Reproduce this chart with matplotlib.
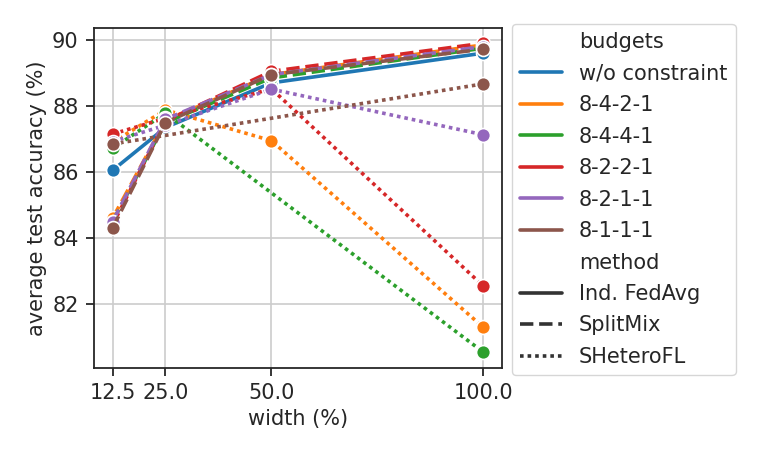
import matplotlib
matplotlib.use("Agg")
import matplotlib.pyplot as plt
from matplotlib.lines import Line2D
import seaborn as sns

sns.set_style("ticks", {"axes.grid": True})
plt.rcParams['font.family'] = ['DejaVu Sans']

# widths on the x axis
widths = [12.5, 25.0, 50.0, 100.0]
budgets = ["w/o constraint", "8-4-2-1", "8-4-4-1", "8-2-2-1", "8-2-1-1", "8-1-1-1"]
methods = ["Ind. FedAvg", "SplitMix", "SHeteroFL"]
colors = sns.color_palette("tab10", 6)
dashes = {"Ind. FedAvg": "-", "SplitMix": (0, (3.7, 1.6)), "SHeteroFL": (0, (1, 1.1))}

# Ind. FedAvg (no budget constraint)
fedavg_x = [12.5, 25.0, 50.0, 100.0]
fedavg_y = [86.05, 87.35, 88.70, 89.60]

# SplitMix, per budget
splitmix_x = [12.5, 25.0, 50.0, 100.0]
splitmix_8421 = [84.60, 87.55, 88.95, 89.85]
splitmix_8441 = [84.50, 87.50, 88.85, 89.75]
splitmix_8221 = [84.40, 87.55, 89.05, 89.90]
splitmix_8211 = [84.50, 87.60, 88.95, 89.80]
splitmix_8111 = [84.30, 87.50, 88.95, 89.72]

# SHeteroFL, per budget (only widths that exist for that budget)
shetero_8421_x = [12.5, 25.0, 50.0, 100.0]
shetero_8421_y = [86.90, 87.88, 86.95, 81.30]
shetero_8441_x = [12.5, 25.0, 100.0]
shetero_8441_y = [86.72, 87.78, 80.55]
shetero_8221_x = [12.5, 25.0, 50.0, 100.0]
shetero_8221_y = [87.15, 87.63, 88.52, 82.55]
shetero_8211_x = [12.5, 25.0, 50.0, 100.0]
shetero_8211_y = [86.92, 87.42, 88.51, 87.13]
shetero_8111_x = [12.5, 100.0]
shetero_8111_y = [86.85, 88.67]

series = [
    ("w/o constraint", "Ind. FedAvg", fedavg_x, fedavg_y),
    ("8-4-2-1", "SplitMix", splitmix_x, splitmix_8421),
    ("8-4-2-1", "SHeteroFL", shetero_8421_x, shetero_8421_y),
    ("8-4-4-1", "SplitMix", splitmix_x, splitmix_8441),
    ("8-4-4-1", "SHeteroFL", shetero_8441_x, shetero_8441_y),
    ("8-2-2-1", "SplitMix", splitmix_x, splitmix_8221),
    ("8-2-2-1", "SHeteroFL", shetero_8221_x, shetero_8221_y),
    ("8-2-1-1", "SplitMix", splitmix_x, splitmix_8211),
    ("8-2-1-1", "SHeteroFL", shetero_8211_x, shetero_8211_y),
    ("8-1-1-1", "SplitMix", splitmix_x, splitmix_8111),
    ("8-1-1-1", "SHeteroFL", shetero_8111_x, shetero_8111_y),
]

fs = 15
fig = plt.figure(figsize=(7.61, 4.57), dpi=100)
ax = fig.add_axes([0.1235, 0.1947, 0.536, 0.744])

for budget, method, xs, ys in series:
    ax.plot(xs, ys, color=colors[budgets.index(budget)], linestyle=dashes[method],
            lw=2.6, marker="o", markersize=10, markeredgecolor="white",
            markeredgewidth=1.2)

ax.set_xticks(widths)
ax.set_xticklabels([str(w) for w in widths])
ax.set_ylim(80.07, 90.36)
ax.set_yticks([82, 84, 86, 88, 90])
ax.set_xlabel("width (%)", fontsize=fs)
ax.set_ylabel("average test accuracy (%)", fontsize=fs)
ax.tick_params(labelsize=fs, length=6, width=1.3, color="#262626", pad=5)
for s in ax.spines.values():
    s.set_color("#262626")
    s.set_linewidth(1.3)
ax.grid(True, color="#cccccc", lw=1.2)

# legend in the old seaborn style: group titles as blank entries
blank = Line2D([], [], color="none")
handles, labels = [blank], ["budgets"]
for i, b in enumerate(budgets):
    handles.append(Line2D([], [], color=colors[i], lw=2.6))
    labels.append(b)
handles.append(blank)
labels.append("method")
for m in methods:
    handles.append(Line2D([], [], color="#333333", lw=2.6, linestyle=dashes[m]))
    labels.append(m)
fig.legend(handles, labels, loc="upper left", bbox_to_anchor=(0.673, 0.9475),
           borderaxespad=0, fontsize=fs, labelspacing=0.55, handlelength=2.0,
           handletextpad=0.8, borderpad=0.4,
           frameon=True, edgecolor="#cccccc", fancybox=True)

fig.savefig("out.png", dpi=100)
